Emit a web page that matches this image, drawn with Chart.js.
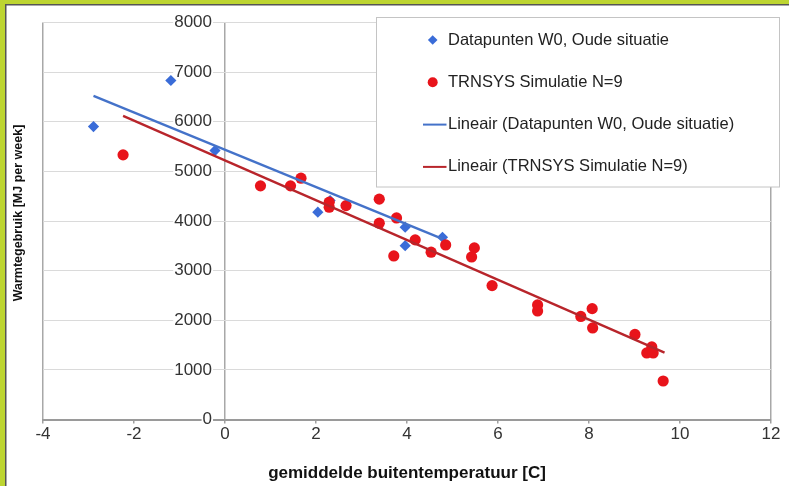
<!DOCTYPE html>
<html><head><meta charset="utf-8">
<script src="https://cdn.jsdelivr.net/npm/chart.js@4.4.1/dist/chart.umd.min.js"></script>
<style>html,body{margin:0;padding:0;background:#fff;}#wrap{width:789px;height:486px;position:relative;}</style>
</head><body><div id="wrap"><canvas id="c" width="789" height="486"></canvas></div>
<script>
// ---- data ----
const seriesLabels = [
  'Datapunten W0, Oude situatie',
  'TRNSYS Simulatie N=9',
  'Lineair (Datapunten W0, Oude situatie)',
  'Lineair (TRNSYS Simulatie N=9)'
];
const blueX = [-2.89, -1.19, -0.22, 2.04, 2.31, 3.96, 3.96, 4.78];
const blueY = [5903, 6831, 5419, 4177, 4411, 3875, 3502, 3673];
const redX = [-2.24, 0.78, 1.44, 1.67, 2.29, 2.29, 2.66, 3.39, 3.39, 3.77, 3.71, 4.18, 4.53, 4.85, 5.48, 5.42, 5.87, 6.87, 6.87, 7.82, 8.07, 8.08, 9.01, 9.38, 9.27, 9.41, 9.63];
const redY = [5333, 4708, 4708, 4863, 4379, 4278, 4310, 4440, 3956, 4062, 3296, 3619, 3371, 3518, 3458, 3276, 2698, 2308, 2187, 2077, 2234, 1845, 1714, 1462, 1341, 1341, 776];
const blueTrendX = [-2.89, 4.78];
const blueTrendY = [6522, 3639];
const redTrendX = [-2.24, 9.66];
const redTrendY = [6119, 1347];
const xMin = -4, xMax = 12, xStep = 2;
const yMin = 0, yMax = 8000, yStep = 1000;
const yAxisAtX = 0;          // the value axis crosses the category axis at x = 0
const xTitle = 'gemiddelde buitentemperatuur [C]';
const yTitle = 'Warmtegebruik [MJ per week]';

const pts = (xs, ys) => xs.map((x, i) => ({x: x, y: ys[i]}));
const FONT = "'Liberation Sans', Arial, sans-serif";
Chart.defaults.font.family = FONT;

const colors = {blue: '#3a6cd8', red: '#e8141b', blueLine: '#4472c9', redLine: '#b8252b'};

const framePlugin = {
  id: 'frame',
  beforeDraw(chart) {
    const c = chart.ctx; c.save(); c.fillStyle = '#fff'; c.fillRect(0, 0, chart.width, chart.height); c.restore();
  },
  afterLayout(chart) {
    const s = chart.scales.yt; if (s) { s.bottom -= 16; }
  },
  afterDraw(chart) {
    const c = chart.ctx; c.save();
    // legend box
    const lx = 376.5, ly = 17.5, lw = 403, lh = 169.5;
    c.fillStyle = '#fff'; c.fillRect(lx, ly, lw, lh);
    c.strokeStyle = '#c4c4c4'; c.lineWidth = 1; c.strokeRect(lx, ly, lw, lh);
    c.font = '16.5px ' + FONT; c.fillStyle = '#222'; c.textBaseline = 'middle'; c.textAlign = 'left';
    chart.data.datasets.forEach((ds, i) => {
      const y = 40 + i * 42.3;
      const mx = 432.7;
      if (ds.type === 'line') {
        c.strokeStyle = ds.borderColor; c.lineWidth = 2;
        c.beginPath(); c.moveTo(423, y); c.lineTo(446.5, y); c.stroke();
      } else if (ds.pointStyle === 'rectRot') {
        const r = 4.8; c.fillStyle = ds.backgroundColor;
        c.beginPath(); c.moveTo(mx, y - r); c.lineTo(mx + r, y); c.lineTo(mx, y + r); c.lineTo(mx - r, y); c.closePath(); c.fill();
      } else {
        c.fillStyle = ds.backgroundColor; c.beginPath(); c.arc(mx, y, 5, 0, Math.PI * 2); c.fill();
      }
      c.fillStyle = '#222';
      c.fillText(ds.label, 448, y);
    });
    // green frame
    c.fillStyle = '#bdd531'; c.fillRect(0, 0, chart.width, 4); c.fillRect(0, 0, 5, chart.height);
    c.fillStyle = '#555'; c.fillRect(5, 4, 1.5, chart.height); c.fillRect(5, 4, chart.width, 1.5);
    c.restore();
  }
};

new Chart(document.getElementById('c'), {
  type: 'scatter',
  data: {
    datasets: [
      {type: 'scatter', label: seriesLabels[0], data: pts(blueX, blueY), pointStyle: 'rectRot', pointRadius: 5.6, backgroundColor: colors.blue, borderWidth: 0, order: 4},
      {type: 'scatter', label: seriesLabels[1], data: pts(redX, redY), pointStyle: 'circle', pointRadius: 5.6, backgroundColor: colors.red, borderWidth: 0, order: 3},
      {type: 'line', label: seriesLabels[2], data: pts(blueTrendX, blueTrendY), borderColor: colors.blueLine, borderWidth: 2.3, pointRadius: 0, fill: false, order: 2},
      {type: 'line', label: seriesLabels[3], data: pts(redTrendX, redTrendY), borderColor: colors.redLine, borderWidth: 2.3, pointRadius: 0, fill: false, order: 1}
    ]
  },
  options: {
    responsive: false, animation: false, devicePixelRatio: 1,
    layout: {padding: {top: 22.5, right: 18, bottom: 0, left: 0}},
    plugins: {legend: {display: false}, tooltip: {enabled: false}},
    scales: {
      x: {
        type: 'linear', position: 'bottom', min: xMin, max: xMax,
        ticks: {stepSize: xStep, font: {size: 17}, color: '#333', padding: 1},
        grid: {drawOnChartArea: true, tickLength: 4, tickColor: '#a0a0a0', lineWidth: 1.5,
          color: (ctx) => (ctx.tick && (ctx.tick.value === xMin || ctx.tick.value === xMax || ctx.tick.value === yAxisAtX)) ? '#a8a8a8' : 'rgba(0,0,0,0)'},
        border: {color: '#9a9a9a', width: 2},
        title: {display: true, text: xTitle, font: {size: 17, weight: 'bold', lineHeight: 1.2}, color: '#111', padding: {top: 0, bottom: 2.8}},
        afterFit: (s) => { s.height = 66.5; }
      },
      y: {
        type: 'linear', position: {x: yAxisAtX - 0.285}, min: yMin, max: yMax,
        ticks: {stepSize: yStep, font: {size: 17, lineHeight: 1}, color: '#333',
          callback: (v) => String(v),
          showLabelBackdrop: true, backdropColor: '#fff', backdropPadding: {x: 1, y: 0}},
        grid: {drawTicks: false, lineWidth: 1,
          color: (ctx) => (ctx.tick && ctx.tick.value === yMin) ? 'rgba(0,0,0,0)' : '#dadada'},
        border: {display: false}
      },
      yt: {
        type: 'linear', position: 'left', min: 0, max: 1,
        ticks: {display: false}, grid: {display: false}, border: {display: false},
        title: {display: true, text: yTitle, font: {size: 12.5, weight: 'bold', lineHeight: 1.2}, color: '#111', padding: {top: 11.5, bottom: 0}},
        afterFit: (s) => { s.width = 43; }
      }
    }
  },
  plugins: [framePlugin]
});
</script></body></html>
